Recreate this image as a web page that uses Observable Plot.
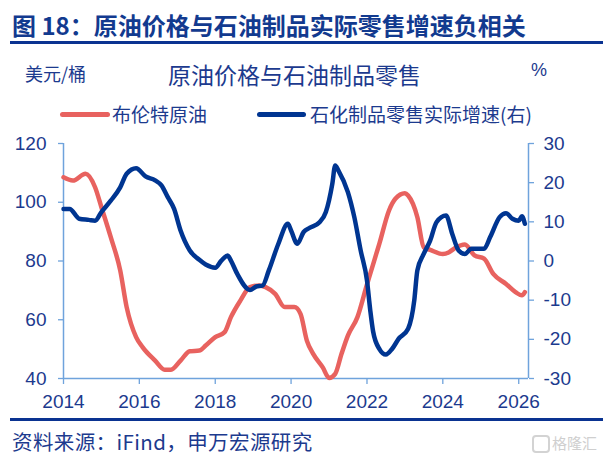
<!DOCTYPE html>
<html>
<head>
<meta charset="utf-8">
<script src="https://cdn.jsdelivr.net/npm/d3@7"></script>
<script src="https://cdn.jsdelivr.net/npm/@observablehq/plot@0.6"></script>
<style>
  html, body { margin: 0; padding: 0; background: #fff; }
  #page { position: relative; width: 603px; height: 456px; font-family: "Noto Sans CJK SC", "Noto Sans", sans-serif; color: #1c3a8e; }
  .abs { position: absolute; white-space: nowrap; }
  #title { left: 12px; top: 11px; font-size: 24px; line-height: 28px; font-weight: bold; color: #123a8f; }
  .rule { position: absolute; left: 10px; width: 593px; height: 3px; background: #0a3391; }
  #unitL { left: 25px; top: 62px; font-size: 18px; line-height: 22px; }
  #sub { left: 168px; top: 60px; font-size: 23px; line-height: 28px; }
  #unitR { left: 531px; top: 59px; font-size: 18px; line-height: 22px; font-family: "Liberation Sans", Arial, sans-serif; }
  .legline { position: absolute; height: 5px; border-radius: 3px; }
  .leg { font-size: 19px; line-height: 24px; top: 102px; }
  #src { left: 12px; top: 429px; font-size: 20.5px; line-height: 24px; letter-spacing: 0.4px; }
  #wm { left: 552px; top: 434px; font-size: 15px; line-height: 18px; color: #cfcfcf; }
  #wmbox { position: absolute; left: 532px; top: 435px; width: 14px; height: 14px; border: 2px solid #d3d3d3; border-radius: 4px; }
  #chart { position: absolute; left: 0; top: 130px; }
</style>
</head>
<body>
<div id="page">
  <div id="title" class="abs">图 18：原油价格与石油制品实际零售增速负相关</div>
  <div class="rule" style="top:41px"></div>
  <div id="unitL" class="abs">美元/桶</div>
  <div id="sub" class="abs">原油价格与石油制品零售</div>
  <div id="unitR" class="abs">%</div>
  <div class="legline" style="left:60px; top:112px; width:50px; background:#e8625f"></div>
  <div class="abs leg" style="left:112px">布伦特原油</div>
  <div class="legline" style="left:257px; top:112px; width:49px; background:#003591"></div>
  <div class="abs leg" style="left:310px">石化制品零售实际增速(右)</div>
  <div id="chart"></div>
  <div class="rule" style="top:418px"></div>
  <div id="src" class="abs">资料来源：iFind，申万宏源研究</div>
  <div id="wmbox"></div>
  <div id="wm" class="abs">格隆汇</div>
</div>
<script>
// Brent crude oil price (USD/bbl), left axis
const brentDates = ["2014-01","2014-04","2014-08","2014-11","2015-01","2015-04","2015-07","2015-09","2015-12",
  "2016-02","2016-06","2016-09","2016-11","2017-02","2017-05","2017-08","2017-10","2018-01","2018-04","2018-06",
  "2018-09","2018-12","2019-03","2019-05","2019-08","2019-11","2020-02","2020-04","2020-06","2020-08","2020-11",
  "2021-01","2021-03","2021-05","2021-07","2021-10","2022-01","2022-02","2022-04","2022-05","2022-08","2022-10",
  "2023-01","2023-02","2023-05","2023-07","2023-09","2024-01","2024-03","2024-05","2024-08","2024-11","2025-02",
  "2025-05","2025-09","2025-12","2026-02","2026-03"];
const brentValues = [108.5,107.4,109.7,105.1,98.3,88.1,76.8,64.3,54.1,
  50.7,46.1,43.0,43.0,46.1,49.3,49.5,51.2,54.1,55.8,60.9,
  66.6,71.1,71.7,71.1,68.8,64.3,64.3,62.0,52.9,48.4,43.8,
  40.2,41.6,48.4,54.6,60.9,72.0,75.6,82.5,86.0,97.2,101.2,
  103.1,102.3,94.9,84.7,83.8,82.4,83.0,84.5,85.6,81.9,80.8,
  75.6,72.2,69.4,68.3,69.4];

// Real retail growth of petroleum products (%), right axis
const retailDates = ["2014-01","2014-03","2014-06","2014-09","2014-11","2015-01","2015-04","2015-07","2015-09","2015-12",
  "2016-03","2016-06","2016-08","2016-10","2016-12","2017-02","2017-05","2017-08","2017-10","2018-01",
  "2018-03","2018-05","2018-06","2018-08","2018-12","2019-02","2019-04","2019-06","2019-09","2019-12",
  "2020-01","2020-03","2020-05","2020-07","2020-10","2020-12","2021-02","2021-03","2021-04","2021-07",
  "2021-09","2021-11","2022-01","2022-02","2022-03","2022-05","2022-07","2022-09","2022-11","2023-02",
  "2023-04","2023-05","2023-07","2023-09","2023-11","2024-02","2024-04","2024-06","2024-08","2024-10",
  "2025-02","2025-04","2025-07","2025-09","2025-11","2026-01","2026-02","2026-03"];
const retailValues = [13.3,13.3,10.8,10.5,10.3,12.5,15.4,18.8,22.3,23.7,
  21.6,20.6,19.3,16.3,13.3,7.8,2.7,0.3,-0.9,-1.7,
  0.1,1.4,0.1,-3.3,-7.4,-6.5,-6.3,-2.4,4.4,9.5,
  7.8,4.4,7.4,8.5,9.9,12.5,19.7,24.4,23.1,17.6,
  11.2,2.7,-5.0,-12.5,-18.0,-22.5,-23.9,-22.4,-19.9,-17.3,
  -10.1,-2.4,1.8,5.2,9.9,11.6,6.9,2.7,1.8,3.1,
  3.1,6.1,11.2,12.2,10.8,10.3,11.4,9.5];

const xTickYears = [2014, 2016, 2018, 2020, 2022, 2024, 2026];
const leftTicks = [40, 60, 80, 100, 120];
const rightTicks = [-30, -20, -10, 0, 10, 20, 30];

const parse = d3.utcParse("%Y-%m");
const brent = brentDates.map((d, i) => ({date: parse(d), v: brentValues[i]}));
// right axis (-30..30) mapped onto left scale (40..120)
const toLeft = r => 80 + r * 4 / 3;
const fromLeft = v => Math.round((v - 80) * 3 / 4);
const retail = retailDates.map((d, i) => ({date: parse(d), v: toLeft(retailValues[i])}));

const axisColor = "#6fa3dc";
const labelColor = "#1c3a8e";
const x0 = new Date(Date.UTC(2014, 0, 1));
const x1 = new Date(Date.UTC(2026, 3, 5));

const chart = Plot.plot({
  width: 603,
  height: 285,
  marginTop: 13,
  marginBottom: 37,
  marginLeft: 63,
  marginRight: 75,
  style: {fontFamily: "'Liberation Sans', Arial, sans-serif", fontSize: "19px", color: labelColor, background: "transparent", overflow: "visible"},
  x: {type: "utc", domain: [x0, x1]},
  y: {domain: [40, 120]},
  marks: [
    Plot.axisX({ticks: xTickYears.map(y => new Date(Date.UTC(y, 0, 1))), tickFormat: d => String(d.getUTCFullYear()),
      tickSize: 6, tickPadding: 10, stroke: axisColor, strokeWidth: 1.3, fill: labelColor, label: null}),
    Plot.axisY({anchor: "left", ticks: leftTicks, tickFormat: d => String(d), tickSize: 5, tickPadding: 12,
      stroke: axisColor, strokeWidth: 1.3, fill: labelColor, label: null}),
    Plot.axisY({anchor: "right", ticks: rightTicks.map(toLeft), tickFormat: v => String(fromLeft(v)), tickSize: 5, tickPadding: 10,
      stroke: axisColor, strokeWidth: 1.3, fill: labelColor, label: null}),
    Plot.ruleX([x0], {stroke: axisColor, strokeWidth: 1.5}),
    Plot.ruleX([x1], {stroke: axisColor, strokeWidth: 1.5}),
    Plot.ruleY([40], {stroke: axisColor, strokeWidth: 1.5}),
    Plot.line(brent, {x: "date", y: "v", stroke: "#e8625f", strokeWidth: 4.5, curve: "monotone-x", strokeLinejoin: "round", strokeLinecap: "round"}),
    Plot.line(retail, {x: "date", y: "v", stroke: "#003591", strokeWidth: 4.5, curve: "monotone-x", strokeLinejoin: "round", strokeLinecap: "round"})
  ]
});
document.getElementById("chart").appendChild(chart);
</script>
</body>
</html>
